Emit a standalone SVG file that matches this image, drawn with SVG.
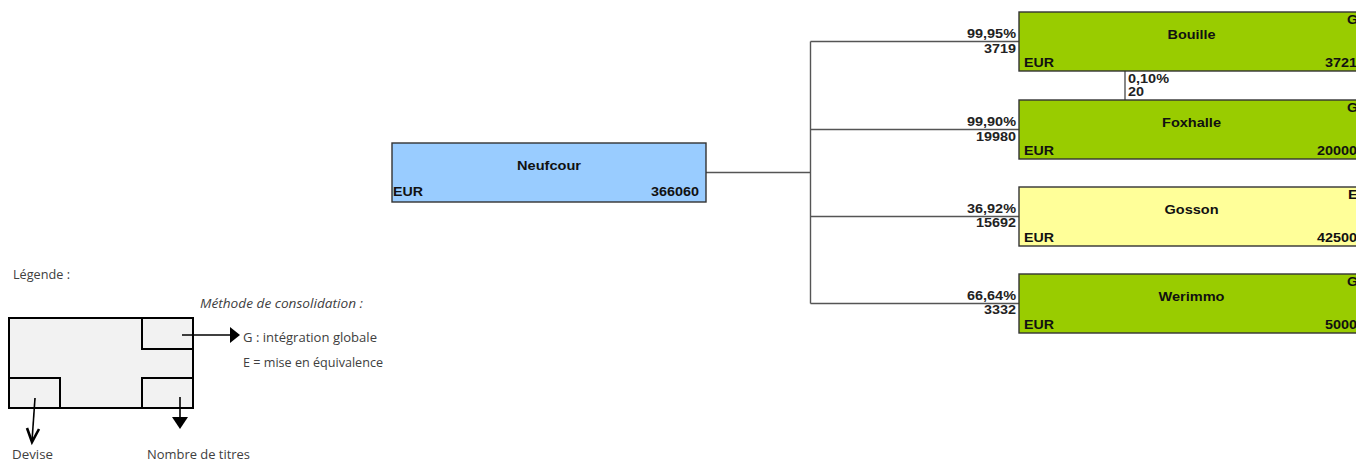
<svg xmlns="http://www.w3.org/2000/svg" width="1356" height="461" viewBox="0 0 1356 461">
<style>
.box{stroke:#333;stroke-width:1.4}
.g{fill:#99CC00}.y{fill:#FFFF99}.b{fill:#99CCFF}
.t{font-family:"Liberation Sans",Arial,sans-serif;font-weight:bold;font-size:12px;fill:#111}
.lbl{font-family:"Liberation Sans",Arial,sans-serif;font-weight:bold;font-size:12px;fill:#222}
.c{fill:none;stroke:#555;stroke-width:1.4}
.lg{font-family:"Open Sans","Noto Sans",sans-serif;font-size:13px;fill:#404040}
.ls{fill:none;stroke:#000;stroke-width:2}
</style>
<g id="connectors">
<path class="c" d="M706,172.5 H810.5 M810.5,41.5 V303.5 M810.5,41.5 H1019 M810.5,129.5 H1019 M810.5,216.5 H1019 M810.5,303.5 H1019"/>
<path class="c" d="M1125,71 V100"/>
<text class="lbl" x="1016" y="38" text-anchor="end" textLength="49" lengthAdjust="spacingAndGlyphs">99,95%</text>
<text class="lbl" x="1016" y="53" text-anchor="end" textLength="32" lengthAdjust="spacingAndGlyphs">3719</text>
<text class="lbl" x="1016" y="125.5" text-anchor="end" textLength="49" lengthAdjust="spacingAndGlyphs">99,90%</text>
<text class="lbl" x="1016" y="140.5" text-anchor="end" textLength="40" lengthAdjust="spacingAndGlyphs">19980</text>
<text class="lbl" x="1016" y="212.5" text-anchor="end" textLength="49" lengthAdjust="spacingAndGlyphs">36,92%</text>
<text class="lbl" x="1016" y="227" text-anchor="end" textLength="40" lengthAdjust="spacingAndGlyphs">15692</text>
<text class="lbl" x="1016" y="300" text-anchor="end" textLength="49" lengthAdjust="spacingAndGlyphs">66,64%</text>
<text class="lbl" x="1016" y="314" text-anchor="end" textLength="32" lengthAdjust="spacingAndGlyphs">3332</text>
<text class="lbl" x="1128" y="82.5" textLength="41" lengthAdjust="spacingAndGlyphs">0,10%</text>
<text class="lbl" x="1128" y="96" textLength="16" lengthAdjust="spacingAndGlyphs">20</text>
</g>
<g id="neufcour">
<rect class="box b" x="392" y="143" width="314" height="59"/>
<text class="t" x="549" y="169.5" text-anchor="middle" textLength="64" lengthAdjust="spacingAndGlyphs">Neufcour</text>
<text class="t" x="393" y="196" textLength="30" lengthAdjust="spacingAndGlyphs">EUR</text>
<text class="t" x="699" y="196" text-anchor="end" textLength="48" lengthAdjust="spacingAndGlyphs">366060</text>
</g>
<g id="bouille">
<rect class="box g" x="1019" y="12" width="345" height="59"/>
<text class="t" x="1191.5" y="38.5" text-anchor="middle" textLength="48" lengthAdjust="spacingAndGlyphs">Bouille</text>
<text class="t" x="1024" y="67" textLength="30" lengthAdjust="spacingAndGlyphs">EUR</text>
<text class="t" x="1357" y="67" text-anchor="end" textLength="32" lengthAdjust="spacingAndGlyphs">3721</text>
<text class="t" x="1358" y="24" text-anchor="end" textLength="11" lengthAdjust="spacingAndGlyphs">G</text>
</g>
<g id="foxhalle">
<rect class="box g" x="1019" y="100" width="345" height="59"/>
<text class="t" x="1191.5" y="126.5" text-anchor="middle" textLength="59" lengthAdjust="spacingAndGlyphs">Foxhalle</text>
<text class="t" x="1024" y="155" textLength="30" lengthAdjust="spacingAndGlyphs">EUR</text>
<text class="t" x="1357" y="155" text-anchor="end" textLength="40" lengthAdjust="spacingAndGlyphs">20000</text>
<text class="t" x="1358" y="112" text-anchor="end" textLength="11" lengthAdjust="spacingAndGlyphs">G</text>
</g>
<g id="gosson">
<rect class="box y" x="1019" y="187" width="345" height="59"/>
<text class="t" x="1191.5" y="213.5" text-anchor="middle" textLength="54" lengthAdjust="spacingAndGlyphs">Gosson</text>
<text class="t" x="1024" y="242" textLength="30" lengthAdjust="spacingAndGlyphs">EUR</text>
<text class="t" x="1357" y="242" text-anchor="end" textLength="40" lengthAdjust="spacingAndGlyphs">42500</text>
<text class="t" x="1358" y="199" text-anchor="end" textLength="10" lengthAdjust="spacingAndGlyphs">E</text>
</g>
<g id="werimmo">
<rect class="box g" x="1019" y="274" width="345" height="59"/>
<text class="t" x="1191.5" y="300.5" text-anchor="middle" textLength="66" lengthAdjust="spacingAndGlyphs">Werimmo</text>
<text class="t" x="1024" y="329" textLength="30" lengthAdjust="spacingAndGlyphs">EUR</text>
<text class="t" x="1357" y="329" text-anchor="end" textLength="32" lengthAdjust="spacingAndGlyphs">5000</text>
<text class="t" x="1358" y="286" text-anchor="end" textLength="11" lengthAdjust="spacingAndGlyphs">G</text>
</g>
<g id="legend">
<text class="lg" x="13" y="279" textLength="57" lengthAdjust="spacingAndGlyphs">Légende :</text>
<rect x="9" y="318" width="184" height="90" fill="#f2f2f2" stroke="#000" stroke-width="2"/>
<path class="ls" d="M142,318 V349 H193 M9,378 H60 V408 M193,378 H142 V408"/>
<text class="lg" x="200" y="308" font-style="italic" textLength="163" lengthAdjust="spacingAndGlyphs">Méthode de consolidation :</text>
<path d="M182,335 H231" stroke="#000" stroke-width="1.6"/>
<polygon points="230,327 240,335 230,343" fill="#000"/>
<text class="lg" x="243" y="342" textLength="134" lengthAdjust="spacingAndGlyphs">G : intégration globale</text>
<text class="lg" x="243" y="367" textLength="140" lengthAdjust="spacingAndGlyphs">E = mise en équivalence</text>
<path d="M35,398 L32,441" stroke="#000" stroke-width="1.6" fill="none"/>
<polyline points="27,428 32,442 39,429" fill="none" stroke="#000" stroke-width="2.6"/>
<path d="M180,397 V418" stroke="#000" stroke-width="1.6"/>
<polygon points="172,417 188,417 180,429" fill="#000"/>
<text class="lg" x="12" y="459" textLength="41" lengthAdjust="spacingAndGlyphs">Devise</text>
<text class="lg" x="147" y="459" textLength="103" lengthAdjust="spacingAndGlyphs">Nombre de titres</text>
</g>
</svg>
